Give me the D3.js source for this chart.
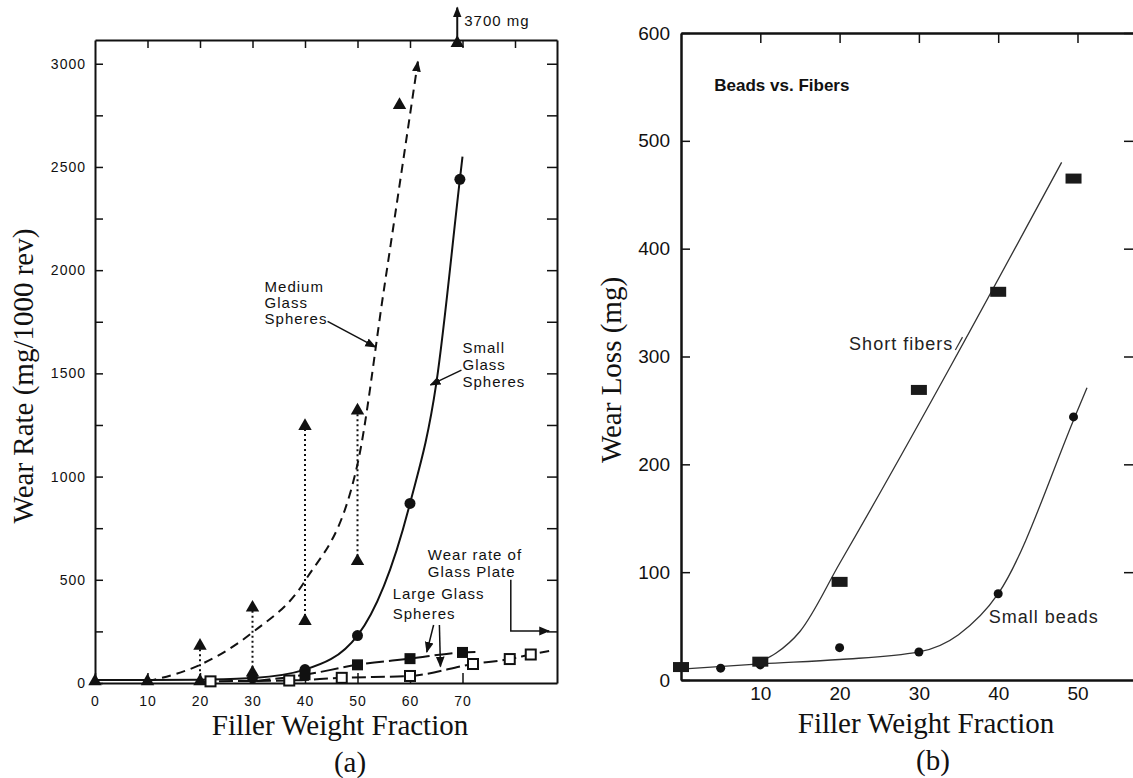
<!DOCTYPE html>
<html>
<head>
<meta charset="utf-8">
<script src="https://cdn.jsdelivr.net/npm/d3@7"></script>
<style>
body { margin: 0; background: #fff; }
svg { display: block; }
.title { font-family: "Liberation Serif", "Times New Roman", serif; font-size: 29px; fill: #111; }
.note { font-family: "Liberation Sans", Arial, sans-serif; font-size: 15px; letter-spacing: 1px; fill: #111; }
.noteb { font-family: "Liberation Sans", Arial, sans-serif; font-size: 18px; letter-spacing: 1px; fill: #222; }
</style>
</head>
<body>
<script>
// ---------- panel (a): wear rate vs filler fraction ----------
// medium glass spheres (triangles), with the scatter ranges shown as dotted bars
var medTriX = [0, 10, 20, 20, 30, 30, 40, 40, 50, 50, 58, 69];
var medTriY = [8, 8, 8, 180, 50, 365, 300, 1245, 590, 1320, 2800, 3100];
var rangeX = [20, 30, 40, 50];
var rangeLo = [8, 50, 300, 590];
var rangeHi = [180, 365, 1245, 1320];
var medCurveX = [10, 20, 30, 40, 50, 55, 61.5];
var medCurveY = [8, 88, 245, 495, 1060, 1900, 3010];

// small glass spheres (filled circles)
var smallX = [30, 40, 50, 60, 69.5];
var smallY = [25, 65, 230, 870, 2440];
var smallCurveX = [0, 10, 20, 30, 40, 50, 60, 65, 69.5, 70];
var smallCurveY = [14, 14, 16, 24, 65, 230, 870, 1450, 2440, 2550];

// large glass spheres (filled squares)
var largeX = [40, 50, 60, 70];
var largeY = [40, 88, 118, 148];
var largeLineX = [30, 40, 50, 60, 70, 72.5];
var largeLineY = [8, 40, 88, 118, 148, 150];

// large glass spheres (open squares)
var openX = [22, 37, 47, 60, 72, 79, 83];
var openY = [8, 12, 25, 34, 92, 116, 138];
var openLineX = [20, 22, 37, 47, 60, 72, 79, 83, 86.5];
var openLineY = [5, 8, 12, 25, 34, 92, 116, 138, 155];

var aYTicks = d3.range(0, 3001, 250);
var aYLabels = [0, 500, 1000, 1500, 2000, 2500, 3000];
var aXLabels = [0, 10, 20, 30, 40, 50, 60, 70];
var aTopTicks = [10, 20, 30, 40, 50, 60, 70, 80];

// ---------- panel (b): beads vs fibers ----------
var fibX = [0, 10, 20, 30, 40, 49.5];
var fibY = [12, 17, 91, 269, 360, 465];
var fibCurveX = [10, 12, 15, 20, 48];
var fibCurveY = [17, 25, 45, 108, 480];

var beadX = [0, 5, 10, 20, 30, 40, 49.5];
var beadY = [12, 11, 14, 30, 26, 80, 244];
var beadCurveX = [0, 10, 20, 30, 35, 40, 50, 51.2];
var beadCurveY = [10, 15, 19, 26, 42, 80, 250, 271];

var bYTicks = [0, 100, 200, 300, 400, 500, 600];
var bXLabels = [10, 20, 30, 40, 50];
var bTopTicks = [10, 20, 30, 40, 50];

var W = 1133, H = 778;
var ink = "#111";

var svg = d3.select("body").append("svg")
    .attr("width", W)
    .attr("height", H);

var defs = svg.append("defs");
defs.append("marker")
    .attr("id", "arr")
    .attr("viewBox", "0 0 10 10")
    .attr("refX", 9).attr("refY", 5)
    .attr("markerWidth", 11).attr("markerHeight", 11)
    .attr("markerUnits", "userSpaceOnUse")
    .attr("orient", "auto")
    .append("path")
    .attr("d", "M0,1 L10,5 L0,9 Z")
    .attr("fill", ink);

function styleAxis(g, fs, sw, ls) {
    g.attr("font-family", '"Liberation Sans", Arial, sans-serif')
        .attr("font-size", fs)
        .attr("color", ink);
    g.selectAll("path.domain").attr("stroke-width", sw);
    g.selectAll(".tick line").attr("stroke-width", 1.5);
    g.selectAll(".tick text").style("letter-spacing", ls + "px");
}

function label(g, x, y, lines, cls, lh) {
    var t = g.append("text").attr("class", cls).attr("x", x).attr("y", y);
    lines.forEach(function (s, i) {
        t.append("tspan").attr("x", x).attr("dy", i ? lh : 0).text(s);
    });
    return t;
}

function pts(xs, ys) { return d3.zip(xs, ys); }

// ================= panel (a) =================
var xa = d3.scaleLinear().domain([0, 88]).range([95, 557]);
var ya = d3.scaleLinear().domain([0, 3115]).range([683, 40]);
var ga = svg.append("g");

ga.append("g").attr("transform", "translate(95,0)")
    .call(d3.axisLeft(ya).tickValues(aYTicks).tickSizeInner(-8).tickSizeOuter(0).tickPadding(9)
        .tickFormat(function (d) { return aYLabels.indexOf(d) >= 0 ? d : ""; }))
    .call(styleAxis, 14, 2, 1);

ga.append("g").attr("transform", "translate(0,683)")
    .call(d3.axisBottom(xa).tickValues(aXLabels).tickSizeInner(-10).tickSizeOuter(0).tickPadding(13))
    .call(styleAxis, 14, 2, 1);

ga.append("g").attr("transform", "translate(0,40)")
    .call(d3.axisTop(xa).tickValues(aTopTicks).tickSizeInner(-8).tickSizeOuter(0).tickFormat(""))
    .call(styleAxis, 14, 2, 0);

ga.append("g").attr("transform", "translate(557,0)")
    .call(d3.axisRight(ya).tickValues(aYTicks.slice(1)).tickSizeInner(-10).tickSizeOuter(0).tickFormat(""))
    .call(styleAxis, 14, 2, 0);

var lineA = d3.line()
    .x(function (d) { return xa(d[0]); })
    .y(function (d) { return ya(d[1]); })
    .curve(d3.curveMonotoneX);

// curves
ga.append("path").datum(pts(smallCurveX, smallCurveY))
    .attr("d", lineA).attr("fill", "none").attr("stroke", ink).attr("stroke-width", 2);

ga.append("path").datum(pts(medCurveX, medCurveY))
    .attr("d", lineA).attr("fill", "none").attr("stroke", ink).attr("stroke-width", 2)
    .attr("stroke-dasharray", "9,6").attr("marker-end", "url(#arr)");

ga.append("path").datum(pts(largeLineX, largeLineY))
    .attr("d", lineA).attr("fill", "none").attr("stroke", ink).attr("stroke-width", 2)
    .attr("stroke-dasharray", "18,5");

ga.append("path").datum(pts(openLineX, openLineY))
    .attr("d", lineA).attr("fill", "none").attr("stroke", ink).attr("stroke-width", 2)
    .attr("stroke-dasharray", "14,5");

// dotted scatter ranges
ga.selectAll(".range")
    .data(d3.range(rangeX.length))
    .enter().append("line")
    .attr("class", "range")
    .attr("x1", function (i) { return xa(rangeX[i]); })
    .attr("x2", function (i) { return xa(rangeX[i]); })
    .attr("y1", function (i) { return ya(rangeLo[i]); })
    .attr("y2", function (i) { return ya(rangeHi[i]); })
    .attr("stroke", ink).attr("stroke-width", 2).attr("stroke-dasharray", "2,3");

// markers
var tri = d3.symbol().type(d3.symbolTriangle).size(78);
ga.selectAll(".tri")
    .data(pts(medTriX, medTriY))
    .enter().append("path")
    .attr("class", "tri")
    .attr("d", tri)
    .attr("transform", function (d) { return "translate(" + xa(d[0]) + "," + ya(d[1]) + ")"; })
    .attr("fill", ink);

ga.selectAll(".dot")
    .data(pts(smallX, smallY))
    .enter().append("circle")
    .attr("class", "dot")
    .attr("cx", function (d) { return xa(d[0]); })
    .attr("cy", function (d) { return ya(d[1]); })
    .attr("r", 5.5)
    .attr("fill", ink);

ga.selectAll(".sq")
    .data(pts(largeX, largeY))
    .enter().append("rect")
    .attr("class", "sq")
    .attr("x", function (d) { return xa(d[0]) - 5.5; })
    .attr("y", function (d) { return ya(d[1]) - 5.5; })
    .attr("width", 11).attr("height", 11)
    .attr("fill", ink);

ga.selectAll(".osq")
    .data(pts(openX, openY))
    .enter().append("rect")
    .attr("class", "osq")
    .attr("x", function (d) { return xa(d[0]) - 5; })
    .attr("y", function (d) { return ya(d[1]) - 5; })
    .attr("width", 10).attr("height", 10)
    .attr("fill", "#fff").attr("stroke", ink).attr("stroke-width", 2);

// 3700 mg off-scale arrow
ga.append("line")
    .attr("x1", xa(69)).attr("x2", xa(69))
    .attr("y1", ya(3100)).attr("y2", ya(3272))
    .attr("stroke", ink).attr("stroke-width", 2).attr("marker-end", "url(#arr)");
ga.append("text").attr("class", "note")
    .attr("x", xa(69) + 7).attr("y", ya(3272) + 18)
    .text("3700 mg");

// annotations
label(ga, xa(32.3), ya(1895), ["Medium", "Glass", "Spheres"], "note", 16);
ga.append("line")
    .attr("x1", xa(44.3)).attr("y1", ya(1752))
    .attr("x2", xa(53.4)).attr("y2", ya(1628))
    .attr("stroke", ink).attr("stroke-width", 1.5).attr("marker-end", "url(#arr)");

label(ga, xa(70), ya(1600), ["Small", "Glass", "Spheres"], "note", 17);
ga.append("line")
    .attr("x1", xa(69.8)).attr("y1", ya(1516))
    .attr("x2", xa(63.9)).attr("y2", ya(1444))
    .attr("stroke", ink).attr("stroke-width", 1.5).attr("marker-end", "url(#arr)");

label(ga, xa(56.7), ya(407), ["Large Glass", "Spheres"], "note", 20);
ga.append("line")
    .attr("x1", xa(64.5)).attr("y1", ya(281))
    .attr("x2", xa(63.2)).attr("y2", ya(150))
    .attr("stroke", ink).attr("stroke-width", 1.5).attr("marker-end", "url(#arr)");
ga.append("line")
    .attr("x1", xa(65.6)).attr("y1", ya(281))
    .attr("x2", xa(65.8)).attr("y2", ya(80))
    .attr("stroke", ink).attr("stroke-width", 1.5).attr("marker-end", "url(#arr)");

label(ga, xa(63.4), ya(596), ["Wear rate of", "Glass Plate"], "note", 17);
ga.append("path")
    .attr("d", "M" + xa(79.2) + "," + ya(500) + " V" + ya(252) + " H" + xa(86.5))
    .attr("fill", "none").attr("stroke", ink).attr("stroke-width", 1.5)
    .attr("marker-end", "url(#arr)");

// titles
ga.append("text").attr("class", "title")
    .attr("transform", "translate(33,376) rotate(-90)")
    .attr("text-anchor", "middle")
    .text("Wear Rate (mg/1000 rev)");
ga.append("text").attr("class", "title")
    .attr("x", 340).attr("y", 735).attr("text-anchor", "middle")
    .text("Filler Weight Fraction");
ga.append("text").attr("class", "title")
    .attr("x", 350).attr("y", 772).attr("text-anchor", "middle")
    .text("(a)");

// ================= panel (b) =================
var xb = d3.scaleLinear().domain([0, 57]).range([681, 1133]);
var yb = d3.scaleLinear().domain([0, 600]).range([680, 33]);
var gb = svg.append("g");

gb.append("g").attr("transform", "translate(681,0)")
    .call(d3.axisLeft(yb).tickValues(bYTicks).tickSizeInner(-9).tickSizeOuter(0).tickPadding(11))
    .call(styleAxis, 19, 2.5, 0);

gb.append("g").attr("transform", "translate(0,680)")
    .call(d3.axisBottom(xb).tickValues(bXLabels).tickSizeInner(0).tickSizeOuter(0).tickPadding(7))
    .call(styleAxis, 19, 2.5, 0);

gb.append("g").attr("transform", "translate(0,33)")
    .call(d3.axisTop(xb).tickValues(bTopTicks).tickSizeInner(-10).tickSizeOuter(0).tickFormat(""))
    .call(styleAxis, 19, 2.5, 0);

// right frame lies just past the page edge: only its inward ticks show
gb.append("g").attr("transform", "translate(1133,0)")
    .call(d3.axisRight(yb).tickValues(bYTicks.slice(1)).tickSizeInner(-9).tickSizeOuter(0).tickFormat(""))
    .call(styleAxis, 19, 0, 0);

var lineB = d3.line()
    .x(function (d) { return xb(d[0]); })
    .y(function (d) { return yb(d[1]); })
    .curve(d3.curveMonotoneX);

gb.append("path").datum(pts(beadCurveX, beadCurveY))
    .attr("d", lineB).attr("fill", "none").attr("stroke", "#333").attr("stroke-width", 1.3);
gb.append("path").datum(pts(fibCurveX, fibCurveY))
    .attr("d", lineB).attr("fill", "none").attr("stroke", "#333").attr("stroke-width", 1.3);

gb.selectAll(".bead")
    .data(pts(beadX, beadY))
    .enter().append("circle")
    .attr("class", "bead")
    .attr("cx", function (d) { return xb(d[0]); })
    .attr("cy", function (d) { return yb(d[1]); })
    .attr("r", 4.5)
    .attr("fill", ink);

gb.selectAll(".fib")
    .data(pts(fibX, fibY))
    .enter().append("rect")
    .attr("class", "fib")
    .attr("x", function (d) { return xb(d[0]) - 8; })
    .attr("y", function (d) { return yb(d[1]) - 5; })
    .attr("width", 16).attr("height", 10)
    .attr("fill", "#1a1a1a");

gb.append("text")
    .attr("x", xb(4.2)).attr("y", yb(546))
    .attr("font-family", '"Liberation Sans", Arial, sans-serif')
    .attr("font-size", 17).attr("font-weight", "bold")
    .attr("fill", ink)
    .text("Beads vs. Fibers");

gb.append("text").attr("class", "noteb")
    .attr("x", xb(21.2)).attr("y", yb(306))
    .text("Short fibers");
gb.append("line")
    .attr("x1", xb(34.6)).attr("y1", yb(306))
    .attr("x2", xb(35.5)).attr("y2", yb(318))
    .attr("stroke", "#333").attr("stroke-width", 1.2);

gb.append("text").attr("class", "noteb")
    .attr("x", xb(38.8)).attr("y", yb(53))
    .text("Small beads");

gb.append("text").attr("class", "title")
    .attr("transform", "translate(621,370) rotate(-90)")
    .attr("text-anchor", "middle")
    .text("Wear Loss (mg)");
gb.append("text").attr("class", "title")
    .attr("x", 926).attr("y", 733).attr("text-anchor", "middle")
    .text("Filler Weight Fraction");
gb.append("text").attr("class", "title")
    .attr("x", 933).attr("y", 770).attr("text-anchor", "middle")
    .text("(b)");
</script>
</body>
</html>
